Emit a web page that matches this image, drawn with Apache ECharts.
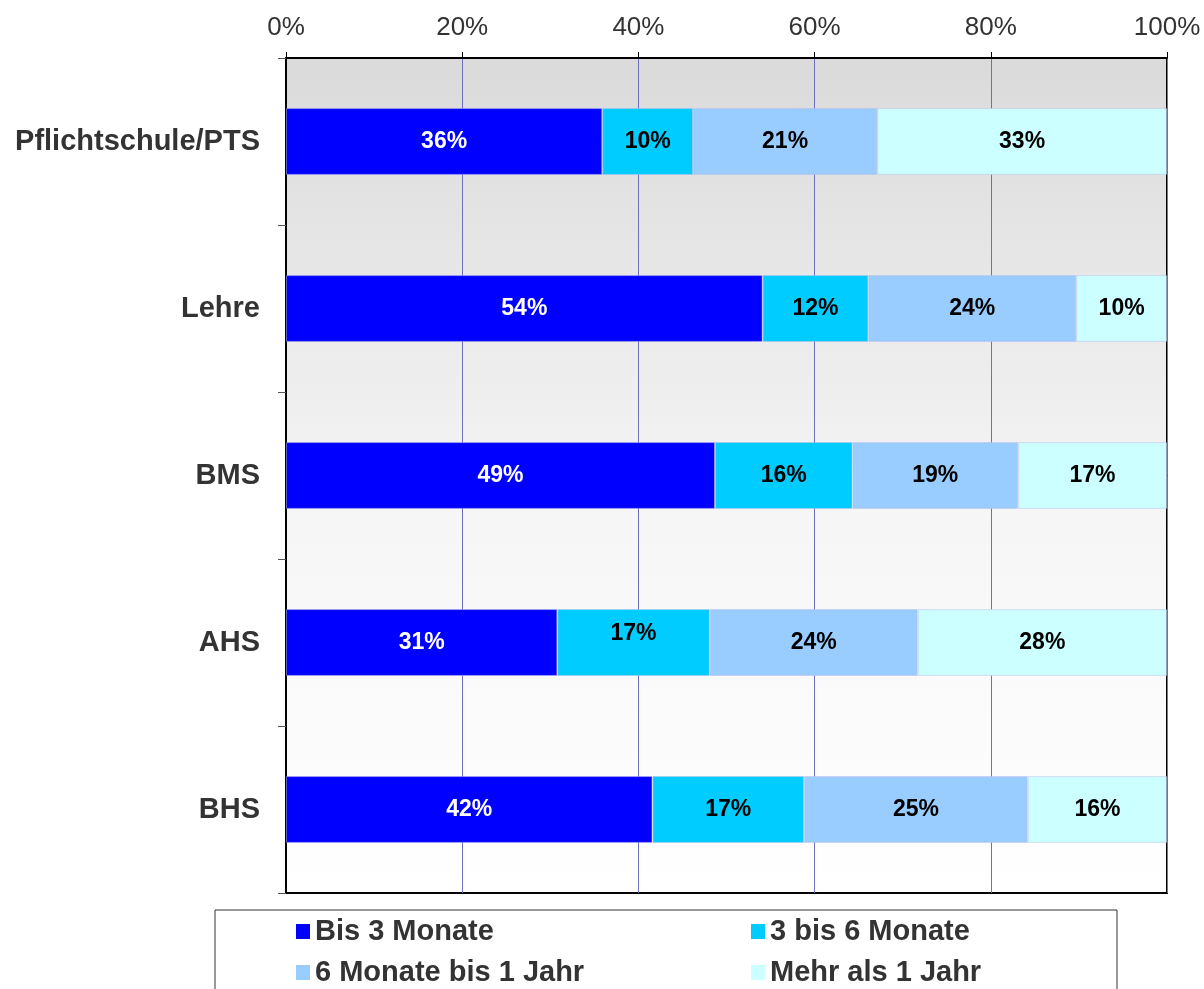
<!DOCTYPE html>
<html>
<head>
<meta charset="utf-8">
<script src="https://cdn.jsdelivr.net/npm/echarts@6/dist/echarts.min.js"></script>
<style>
html,body{margin:0;padding:0;background:#fff;}
#chart{width:1204px;height:989px;}
</style>
</head>
<body>
<div id="chart"></div>
<script>
const categories = ['Pflichtschule/PTS', 'Lehre', 'BMS', 'AHS', 'BHS'];
const seriesNames = ['Bis 3 Monate', '3 bis 6 Monate', '6 Monate bis 1 Jahr', 'Mehr als 1 Jahr'];
const bis3Monate = [35.9, 54.1, 48.7, 30.8, 41.6];
const bis6Monate = [10.3, 12.0, 15.6, 17.3, 17.2];
const monate6bis1Jahr = [20.9, 23.6, 18.8, 23.6, 25.4];
const mehrAls1Jahr = [32.9, 10.3, 16.9, 28.3, 15.8];
const xTickLabels = ['0%', '20%', '40%', '60%', '80%', '100%'];

const colors = ['#0000ff', '#00ccff', '#99ccff', '#ccffff'];
const labelColors = ['#ffffff', '#000000', '#000000', '#000000'];
const allValues = [bis3Monate, bis6Monate, monate6bis1Jahr, mehrAls1Jahr];
const FONT = 'Liberation Sans, Arial, sans-serif';

const chart = echarts.init(document.getElementById('chart'), null, {renderer: 'canvas'});

const series = seriesNames.map((name, si) => ({
  name: name,
  type: 'bar',
  stack: 'total',
  barWidth: '40%',
  itemStyle: {color: colors[si], borderColor: 'rgba(190,190,235,0.5)', borderWidth: 1},
  label: {
    show: true,
    position: 'inside',
    color: labelColors[si],
    fontFamily: FONT,
    fontWeight: 'bold',
    fontSize: 23,
    formatter: p => Math.round(p.value) + '%'
  },
  data: allValues[si].map((v, ci) => {
    // AHS "17%" label sits slightly higher in the original
    if (si === 1 && categories[ci] === 'AHS') {
      return {value: v, label: {offset: [0, -9]}};
    }
    return v;
  })
}));

const option = {
  animation: false,
  backgroundColor: '#ffffff',
  grid: {
    left: 286, right: 37, top: 58, bottom: 96,
    show: true,
    borderColor: '#000000',
    borderWidth: 2,
    backgroundColor: new echarts.graphic.LinearGradient(0, 0, 0, 1, [
      {offset: 0, color: '#dadada'},
      {offset: 0.55, color: '#f6f6f6'},
      {offset: 1, color: '#ffffff'}
    ])
  },
  xAxis: {
    type: 'value',
    position: 'top',
    min: 0, max: 100, interval: 20,
    axisLine: {show: true, lineStyle: {color: '#000', width: 2}},
    axisTick: {show: true, length: 6, lineStyle: {color: '#000'}},
    axisLabel: {
      color: '#333',
      fontFamily: FONT,
      fontSize: 26,
      margin: 17,
      formatter: v => xTickLabels[Math.round(v / 20)]
    },
    splitLine: {show: true, lineStyle: {color: '#6e6ec4', width: 1}}
  },
  yAxis: {
    type: 'category',
    inverse: true,
    data: categories,
    axisLine: {show: true, lineStyle: {color: '#000', width: 2}},
    axisTick: {show: true, length: 8, lineStyle: {color: '#555'}},
    axisLabel: {
      color: '#333',
      fontFamily: FONT,
      fontWeight: 'bold',
      fontSize: 29,
      margin: 26
    }
  },
  legend: {
    left: 215,
    top: 910,
    width: 760,
    orient: 'horizontal',
    padding: [6, 80, 30, 81],
    itemGap: 10,
    itemWidth: 14,
    itemHeight: 15,
    borderColor: '#333',
    borderWidth: 1,
    icon: 'rect',
    itemStyle: {borderWidth: 0},
    textStyle: {
      color: '#333',
      fontFamily: FONT,
      fontWeight: 'bold',
      fontSize: 29,
      lineHeight: 31
    },
    data: [
      {name: seriesNames[0], textStyle: {width: 426}},
      {name: seriesNames[1], textStyle: {width: 267}},
      {name: seriesNames[2], textStyle: {width: 426}},
      {name: seriesNames[3], textStyle: {width: 267}}
    ]
  },
  series: series
};

chart.setOption(option);
</script>
</body>
</html>
